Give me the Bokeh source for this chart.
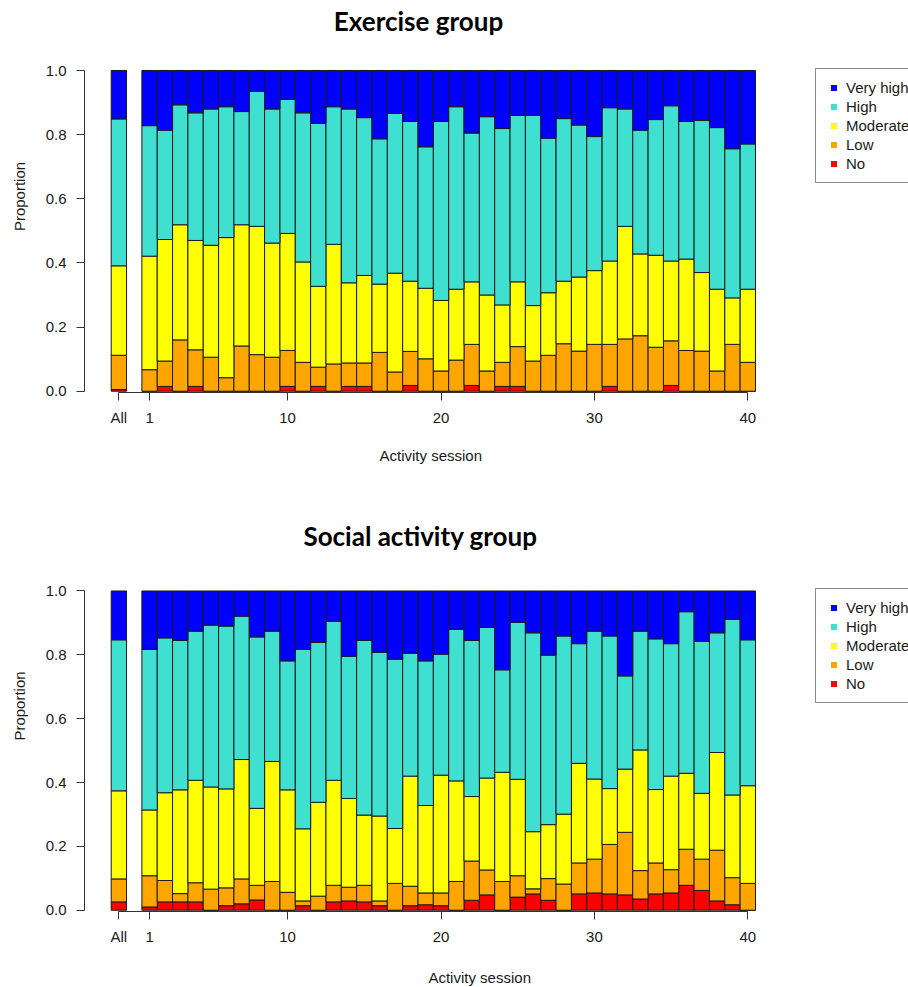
from bokeh.plotting import figure
from bokeh.models import (ColumnDataSource, Range1d, FixedTicker, Legend, LegendItem,
                          Title, Label, PrintfTickFormatter)
from bokeh.layouts import column
from bokeh.embed import file_html
from bokeh.resources import INLINE

# ---------------- data ----------------
sessions = ["All"] + [str(i) for i in range(1, 41)]
levels = ["Very high", "High", "Moderate", "Low", "No"]
level_colors = ["#0000FF", "#40E0D0", "#FFFF00", "#FFA500", "#FF0000"]
tick_sessions = ["All", "1", "10", "20", "30", "40"]

# Exercise group: proportion per level, "All" first, then sessions 1..40
ex_no = [0.005, 0, 0.015, 0, 0.015, 0, 0, 0, 0, 0, 0.015, 0, 0.015, 0, 0.015, 0.015, 0, 0, 0.018, 0, 0,
         0, 0.018, 0, 0.015, 0.015, 0, 0, 0, 0, 0, 0.015, 0, 0, 0, 0.018, 0, 0, 0, 0, 0]
ex_low = [0.107, 0.067, 0.079, 0.160, 0.114, 0.106, 0.042, 0.141, 0.114, 0.106, 0.112, 0.090, 0.060, 0.085,
          0.073, 0.073, 0.121, 0.060, 0.106, 0.101, 0.063, 0.097, 0.128, 0.063, 0.075, 0.124, 0.094, 0.112,
          0.148, 0.125, 0.146, 0.131, 0.163, 0.173, 0.137, 0.139, 0.127, 0.125, 0.063, 0.146, 0.090]
ex_moderate = [0.279, 0.354, 0.379, 0.359, 0.341, 0.349, 0.437, 0.378, 0.400, 0.356, 0.365, 0.313, 0.252,
               0.373, 0.250, 0.273, 0.213, 0.308, 0.219, 0.220, 0.220, 0.221, 0.195, 0.237, 0.179, 0.202,
               0.173, 0.195, 0.195, 0.231, 0.230, 0.260, 0.351, 0.255, 0.287, 0.249, 0.285, 0.245, 0.255,
               0.145, 0.228]
ex_high = [0.458, 0.407, 0.341, 0.374, 0.398, 0.425, 0.408, 0.353, 0.421, 0.418, 0.418, 0.465, 0.508, 0.429,
           0.542, 0.492, 0.453, 0.498, 0.498, 0.441, 0.558, 0.569, 0.464, 0.556, 0.550, 0.519, 0.593, 0.482,
           0.507, 0.474, 0.418, 0.478, 0.366, 0.386, 0.423, 0.484, 0.429, 0.474, 0.504, 0.465, 0.453]
ex_very_high = [0.151, 0.172, 0.186, 0.107, 0.132, 0.120, 0.113, 0.128, 0.065, 0.120, 0.090, 0.132, 0.165,
                0.113, 0.120, 0.147, 0.213, 0.134, 0.159, 0.238, 0.159, 0.113, 0.195, 0.144, 0.181, 0.140,
                0.140, 0.211, 0.150, 0.170, 0.206, 0.116, 0.120, 0.186, 0.153, 0.110, 0.159, 0.156, 0.178,
                0.244, 0.229]

# Social activity group
so_no = [0.026, 0.010, 0.026, 0.026, 0.026, 0, 0.014, 0.020, 0.032, 0, 0, 0.014, 0, 0.026, 0.029, 0.026,
         0.014, 0, 0.014, 0.017, 0.014, 0, 0.031, 0.048, 0, 0.041, 0.051, 0.031, 0, 0.051, 0.054, 0.051,
         0.048, 0.035, 0.051, 0.054, 0.078, 0.062, 0.029, 0.017, 0]
so_low = [0.072, 0.098, 0.067, 0.026, 0.060, 0.066, 0.056, 0.078, 0.046, 0.090, 0.056, 0.015, 0.044, 0.052,
          0.043, 0.052, 0.015, 0.084, 0.061, 0.037, 0.040, 0.090, 0.123, 0.078, 0.090, 0.067, 0.016, 0.068,
          0.082, 0.097, 0.106, 0.155, 0.196, 0.089, 0.097, 0.073, 0.113, 0.098, 0.159, 0.085, 0.084]
so_moderate = [0.276, 0.206, 0.275, 0.325, 0.321, 0.320, 0.310, 0.374, 0.241, 0.376, 0.321, 0.226, 0.294,
               0.329, 0.278, 0.220, 0.266, 0.172, 0.345, 0.274, 0.369, 0.315, 0.202, 0.288, 0.342, 0.302,
               0.179, 0.169, 0.219, 0.312, 0.251, 0.175, 0.198, 0.378, 0.230, 0.293, 0.238, 0.206, 0.306,
               0.259, 0.306]
so_high = [0.473, 0.503, 0.485, 0.468, 0.467, 0.507, 0.510, 0.449, 0.537, 0.408, 0.404, 0.562, 0.501, 0.498,
           0.445, 0.547, 0.513, 0.530, 0.385, 0.453, 0.379, 0.475, 0.489, 0.472, 0.321, 0.492, 0.623, 0.531,
           0.558, 0.375, 0.463, 0.478, 0.292, 0.372, 0.472, 0.415, 0.506, 0.476, 0.375, 0.550, 0.457]
so_very_high = [0.153, 0.183, 0.147, 0.155, 0.126, 0.107, 0.110, 0.079, 0.144, 0.126, 0.219, 0.183, 0.161,
                0.095, 0.205, 0.155, 0.192, 0.214, 0.195, 0.219, 0.198, 0.120, 0.155, 0.114, 0.247, 0.098,
                0.131, 0.201, 0.141, 0.165, 0.126, 0.141, 0.266, 0.126, 0.150, 0.165, 0.065, 0.158, 0.131,
                0.089, 0.153]

# ---------------- layout constants (page pixels) ----------------
FIG_W = 908
FRAME_LEFT = 84          # page x of the y axis / frame left
SLOT_PX = 15.34          # width of one bar slot
FIRST_BAR_LEFT = 110.7   # page x of left edge of the "All" bar
FONT = "Liberation Sans"
TITLE_FONT = "Lato"
TEXT_COL = "#1a1a1a"
LEGEND_LEFT = 815
XLAB_LEFT = 379


def slot_of(label):
    # "All" in slot 0, one empty slot, then sessions 1..40 in slots 2..41
    return 0 if label == "All" else int(label) + 1


def make_panel(title, title_center, title_y, fig_top, fig_h, frame_bottom, one_px, zero_px,
               series, xlabel_standoff=None):
    no, low, moderate, high, very_high = series
    frame_w = FIG_W - FRAME_LEFT
    x0 = -0.5 - (FIRST_BAR_LEFT - FRAME_LEFT) / SLOT_PX
    x1 = x0 + frame_w / SLOT_PX
    unit = zero_px - one_px
    y1 = 1 + (one_px - fig_top) / unit
    y0 = -(frame_bottom - zero_px) / unit

    def X(px):
        return x0 + (px - FRAME_LEFT) / SLOT_PX

    def Y(py):
        return 1 - (py - one_px) / unit

    p = figure(width=FIG_W, height=fig_h, x_range=Range1d(x0, x1), y_range=Range1d(y0, y1),
               output_backend="svg", toolbar_location=None, title=None,
               min_border_left=FRAME_LEFT, min_border_right=0, min_border_top=0,
               min_border_bottom=fig_h - (frame_bottom - fig_top))
    p.outline_line_color = None
    p.xgrid.visible = False
    p.ygrid.visible = False
    p.background_fill_color = "white"
    p.border_fill_color = "white"

    src = ColumnDataSource(dict(
        x=[slot_of(s) for s in sessions],
        no=no, low=low, moderate=moderate, high=high, very_high=very_high))
    p.vbar_stack(["no", "low", "moderate", "high", "very_high"], x="x", width=1.0, source=src,
                 fill_color=level_colors[::-1], line_color=TEXT_COL, line_width=1)

    # axes
    xa = p.xaxis[0]
    xa.ticker = FixedTicker(ticks=[slot_of(s) for s in tick_sessions])
    xa.major_label_overrides = {slot_of(s): s for s in tick_sessions}
    xa.bounds = (slot_of("All"), slot_of("40"))
    ya = p.yaxis[0]
    ya.ticker = FixedTicker(ticks=[0, 0.2, 0.4, 0.6, 0.8, 1.0])
    ya.formatter = PrintfTickFormatter(format="%.1f")
    ya.bounds = (0, 1)
    ya.major_label_orientation = "horizontal"
    ya.axis_label = "Proportion"
    ya.axis_label_standoff = 15
    for ax in (xa, ya):
        ax.minor_tick_line_color = None
        ax.major_tick_out = 8
        ax.major_tick_in = 0
        ax.axis_line_color = "#333333"
        ax.major_tick_line_color = "#333333"
        ax.major_label_text_font = FONT
        ax.major_label_text_font_size = "15px"
        ax.major_label_text_color = TEXT_COL
        ax.axis_label_text_font = FONT
        ax.axis_label_text_font_size = "15px"
        ax.axis_label_text_font_style = "normal"
        ax.axis_label_text_color = TEXT_COL
    xa.major_label_standoff = 8
    ya.major_label_standoff = 10

    if xlabel_standoff is not None:
        p.add_layout(Title(text="Activity session", align="left", offset=XLAB_LEFT - FRAME_LEFT,
                           standoff=xlabel_standoff, vertical_align="bottom",
                           text_font=FONT, text_font_size="15px", text_font_style="normal",
                           text_color=TEXT_COL), "below")

    # panel title
    p.add_layout(Label(x=X(title_center), y=Y(title_y), text=title, text_align="center",
                       text_baseline="alphabetic", text_font=TITLE_FONT, text_font_style="bold",
                       text_font_size="26px", text_color="black"))

    # legend (small squares, like R's pch=15)
    items = []
    for lvl, col, key in zip(levels, level_colors, ["very_high", "high", "moderate", "low", "no"]):
        r = p.scatter(x="x", y=key, source=src, marker="square", size=0,
                      fill_color=col, line_color=None)
        items.append(LegendItem(label=lvl, renderers=[r]))
    leg_h = 2 * 10 + 5 * 17 + 4 * 2
    legend = Legend(items=items,
                    location=(LEGEND_LEFT - FRAME_LEFT, frame_bottom - (one_px + leg_h)),
                    padding=10, spacing=2, glyph_width=15, glyph_height=17, label_height=16,
                    label_standoff=5, margin=0,
                    label_text_font=FONT, label_text_font_size="15px", label_text_color=TEXT_COL,
                    border_line_color=TEXT_COL, border_line_width=1,
                    background_fill_color="white", background_fill_alpha=1.0)
    p.add_layout(legend)
    return p


p1 = make_panel("Exercise group", title_center=418, title_y=20.5, fig_top=0, fig_h=500,
                frame_bottom=392, one_px=70, zero_px=390.7,
                series=(ex_no, ex_low, ex_moderate, ex_high, ex_very_high), xlabel_standoff=33)
p2 = make_panel("Social activity group", title_center=420, title_y=535.5, fig_top=500, fig_h=447,
                frame_bottom=912, one_px=590.7, zero_px=910.7,
                series=(so_no, so_low, so_moderate, so_high, so_very_high))

# footer strip holding the lower panel's x-axis title
FOOT_TOP, FOOT_BOTTOM = 947, 987
foot = figure(width=FIG_W, height=FOOT_BOTTOM - FOOT_TOP, x_range=Range1d(0, FIG_W),
              y_range=Range1d(FOOT_BOTTOM, FOOT_TOP), x_axis_location=None, y_axis_location=None,
              min_border=0, toolbar_location=None, output_backend="svg", title=None)
foot.outline_line_color = None
foot.grid.visible = False
foot.add_layout(Label(x=XLAB_LEFT, y=976.5, text="Activity session", text_align="left",
                      text_baseline="alphabetic", text_font=FONT, text_font_size="15px",
                      text_color=TEXT_COL))

layout = column(p1, p2, foot, spacing=0)
open("out.html", "w").write(file_html(layout, INLINE))
